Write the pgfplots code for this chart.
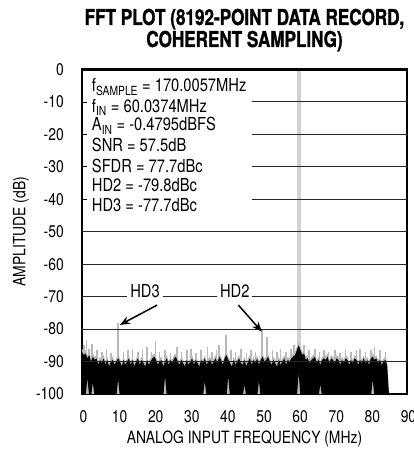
\documentclass[border=0pt]{standalone}
\usepackage{pgfplots}
\pgfplotsset{compat=1.18}
\usepackage{pgfplotstable}
\usepgfplotslibrary{fillbetween}
\usetikzlibrary{calc,arrows.meta}
\usepackage{fontspec}
\setmainfont{TeX Gyre Heros}[FakeStretch=0.82]
\newfontfamily\titlefont{TeX Gyre Heros}[FakeStretch=0.78, BoldFeatures={FakeBold=1.2}]

% noise floor: upper and lower envelope of the FFT bins (dBFS)
\pgfplotstableread{
x hi lo
0.0 -87 -101
0.5 -88 -101
1.0 -87.5 -101
1.5 -89 -95
2.0 -88 -101
2.5 -90 -101
3.0 -88.5 -96.5
3.5 -89.5 -101
4.0 -89 -101
4.5 -91 -101
5.0 -89.5 -101
5.5 -90.5 -101
6.0 -89 -101
6.5 -91 -101
7.0 -89.5 -101
7.5 -91.5 -101
8.0 -90 -101
8.5 -89.5 -101
9.0 -91 -101
9.5 -90 -101
10.0 -89 -95.5
10.5 -90 -101
11.0 -91.5 -101
11.5 -89.5 -101
12.0 -91 -101
12.5 -90 -101
13.0 -89 -101
13.5 -91 -101
14.0 -89.5 -101
14.5 -91.5 -101
15.0 -90 -101
15.5 -89 -101
16.0 -91 -101
16.5 -89.5 -101
17.0 -90.5 -101
17.5 -91.5 -101
18.0 -89.5 -101
18.5 -91 -101
19.0 -90 -101
19.5 -89 -101
20.0 -88.5 -101
20.5 -89.5 -101
21.0 -91 -101
21.5 -90 -101
22.0 -89.5 -101
22.5 -91.5 -101
23.0 -90 -94.5
23.5 -89 -101
24.0 -91 -101
24.5 -89.5 -101
25.0 -90.5 -101
25.5 -89 -101
26.0 -88.5 -101
26.5 -90 -101
27.0 -91 -101
27.5 -89.5 -101
28.0 -90.5 -101
28.5 -91.5 -101
29.0 -89.5 -101
29.5 -91 -101
30.0 -90 -101
30.5 -89 -101
31.0 -91 -101
31.5 -89.5 -101
32.0 -90.5 -101
32.5 -91.5 -101
33.0 -89.5 -101
33.5 -90.5 -101
34.0 -89 -96
34.5 -91 -101
35.0 -90 -101
35.5 -89.5 -101
36.0 -91 -101
36.5 -90 -101
37.0 -89 -101
37.5 -90.5 -101
38.0 -88.5 -101
38.5 -89.5 -101
39.0 -91 -101
39.5 -89 -101
40.0 -88 -101
40.5 -89.5 -94.5
41.0 -90.5 -101
41.5 -91.5 -101
42.0 -89.5 -101
42.5 -91 -101
43.0 -90 -101
43.5 -89 -101
44.0 -90.5 -101
44.5 -91 -101
45.0 -89.5 -97
45.5 -91.5 -101
46.0 -90 -101
46.5 -89 -101
47.0 -91 -101
47.5 -89.5 -101
48.0 -90.5 -101
48.5 -89 -101
49.0 -91 -96
49.5 -89.5 -101
50.0 -88.5 -101
50.5 -90 -101
51.0 -89.5 -101
51.5 -88.5 -101
52.0 -90 -101
52.5 -91 -101
53.0 -89.5 -101
53.5 -90.5 -101
54.0 -91.5 -101
54.5 -89.5 -101
55.0 -91 -101
55.5 -90 -101
56.0 -89 -101
56.5 -91 -101
57.0 -89.5 -101
57.5 -90 -101
58.0 -89 -101
58.5 -88.5 -101
59.0 -88 -101
59.5 -86.5 -101
60.0 -85 -93.5
60.5 -86.5 -101
61.0 -88 -101
61.5 -87.5 -101
62.0 -89.5 -101
62.5 -89 -101
63.0 -90.5 -101
63.5 -89.5 -101
64.0 -89 -101
64.5 -88.5 -101
65.0 -90.5 -101
65.5 -89.5 -101
66.0 -91 -97
66.5 -89.5 -101
67.0 -89 -101
67.5 -89.5 -101
68.0 -88.5 -101
68.5 -90.5 -101
69.0 -89 -101
69.5 -89.5 -101
70.0 -90.5 -101
70.5 -89 -101
71.0 -89.5 -101
71.5 -91 -101
72.0 -89.5 -101
72.5 -90.5 -101
73.0 -89 -101
73.5 -89.5 -101
74.0 -91 -101
74.5 -89.5 -101
75.0 -90.5 -101
75.5 -89 -101
76.0 -89.5 -101
76.5 -91 -101
77.0 -89.5 -101
77.5 -90.5 -101
78.0 -89 -101
78.5 -90.5 -101
79.0 -89.5 -101
79.5 -91 -101
80.0 -89 -101
80.5 -88.5 -95.5
81.0 -89.5 -101
81.5 -89 -101
82.0 -90.5 -101
82.5 -89.5 -101
83.0 -91 -101
83.5 -90 -101
84.0 -89.5 -101
84.5 -91 -101
85.0 -100 -101
}\noise

% isolated spurs rising above the noise floor
\pgfplotstableread{
x y
0.5 -95
0.5 -85
nan nan
1.2 -95
1.2 -83.5
nan nan
2.0 -95
2.0 -86
nan nan
2.8 -95
2.8 -84.5
nan nan
4.2 -95
4.2 -86.5
nan nan
5.5 -95
5.5 -87
nan nan
6.8 -95
6.8 -86
nan nan
8.0 -95
8.0 -87.5
nan nan
11.5 -95
11.5 -87
nan nan
12.8 -95
12.8 -86.5
nan nan
14.0 -95
14.0 -86
nan nan
15.5 -95
15.5 -87
nan nan
16.8 -95
16.8 -86.5
nan nan
18.0 -95
18.0 -85.5
nan nan
19.2 -95
19.2 -87
nan nan
20.3 -95
20.3 -84
nan nan
21.5 -95
21.5 -87
nan nan
23.0 -95
23.0 -86.5
nan nan
24.5 -95
24.5 -87.5
nan nan
26.3 -95
26.3 -85.5
nan nan
27.5 -95
27.5 -87
nan nan
29.0 -95
29.0 -86.5
nan nan
30.2 -95
30.2 -86
nan nan
31.5 -95
31.5 -87.5
nan nan
33.0 -95
33.0 -86.5
nan nan
34.8 -95
34.8 -85.5
nan nan
36.0 -95
36.0 -87
nan nan
37.2 -95
37.2 -86.5
nan nan
38.0 -95
38.0 -85
nan nan
39.9 -95
39.9 -81.8
nan nan
41.2 -95
41.2 -86.5
nan nan
42.5 -95
42.5 -87
nan nan
44.0 -95
44.0 -86
nan nan
45.5 -95
45.5 -87.5
nan nan
46.8 -95
46.8 -86.5
nan nan
48.0 -95
48.0 -87
nan nan
51.3 -95
51.3 -82.5
nan nan
52.8 -95
52.8 -86.5
nan nan
54.0 -95
54.0 -87
nan nan
55.0 -95
55.0 -86
nan nan
56.5 -95
56.5 -87
nan nan
57.8 -95
57.8 -86
nan nan
58.7 -95
58.7 -85
nan nan
61.5 -95
61.5 -85
nan nan
62.8 -95
62.8 -86.5
nan nan
64.5 -95
64.5 -86
nan nan
65.8 -95
65.8 -87
nan nan
67.0 -95
67.0 -86.5
nan nan
68.3 -95
68.3 -87
nan nan
70.0 -95
70.0 -86.5
nan nan
71.5 -95
71.5 -87.5
nan nan
73.0 -95
73.0 -86.5
nan nan
74.5 -95
74.5 -87
nan nan
76.0 -95
76.0 -86.5
nan nan
77.0 -95
77.0 -86
nan nan
78.5 -95
78.5 -87
nan nan
80.0 -95
80.0 -86.5
nan nan
81.0 -95
81.0 -85.5
nan nan
82.5 -95
82.5 -86.5
nan nan
84.0 -95
84.0 -87
}\spurs

\begin{document}
\begin{tikzpicture}
\tikzset{gridline/.style={black!85, line width=0.9bp},
         txt/.style={font=\fontsize{17}{19}\selectfont, inner sep=0pt},
         boxtxt/.style={font=\fontsize{18}{20}\selectfont, inner sep=0pt, anchor=base west}}
\begin{axis}[
  scale only axis, width=325bp, height=324.5bp,
  xmin=0, xmax=90, ymin=-100, ymax=0,
  xtick={0,10,...,90}, ytick={-100,-90,...,0},
  axis line style={line width=2.4bp},
  ytick pos=left, tick align=inside, major tick length=5bp,
  ytick style={black, line width=0.8bp},
  xtick style={draw=none},
  ticklabel style={font=\fontsize{17}{19}\selectfont, inner sep=0pt},
  yticklabel style={anchor=east, xshift=-18bp},
  xticklabel style={anchor=north, yshift=-16bp, xshift=1.5bp},
  /pgf/number format/assume math mode=true,
  unbounded coords=jump,
  fill between/on layer=main,
]
% fundamental
\addplot[gray!35, line width=4bp] coordinates {(60.04,-100) (60.04,-0.48)};
% harmonics
\addplot[gray!55, line width=2bp] coordinates {(10.04,-100) (10.04,-78.2)};
\addplot[gray!55, line width=2bp] coordinates {(49.93,-100) (49.93,-80.3)};
% spurs
\addplot[gray!55, line width=1.6bp] table[x=x, y=y] {\spurs};
% noise floor: soft fringe, then the dense band
\addplot[draw=none, name path=bot] coordinates {(0,-101) (85,-101)};
\addplot[draw=none, name path=lo] table[x=x, y=lo] {\noise};
\addplot[draw=none, name path=hi] table[x=x, y=hi] {\noise};
\addplot[draw=none, name path=haze] table[x=x, y expr=\thisrow{hi}+1] {\noise};
\addplot[fill=gray!55, draw=none] fill between[of=haze and bot];
\addplot[fill=black, draw=none] fill between[of=hi and lo];

% grid
\draw[gridline] (axis cs:47.1,-10) -- (axis cs:90,-10);
\draw[gridline] (axis cs:47.1,-20) -- (axis cs:90,-20);
\draw[gridline] (axis cs:47.1,-30) -- (axis cs:90,-30);
\draw[gridline] (axis cs:47.1,-40) -- (axis cs:90,-40);
\draw[gridline] (axis cs:0,-50) -- (axis cs:90,-50);
\draw[gridline] (axis cs:0,-60) -- (axis cs:90,-60);
\draw[gridline] (axis cs:0,-80) -- (axis cs:90,-80);
\draw[gridline] (axis cs:0,-90) -- (axis cs:90,-90);
\draw[gridline] (axis cs:0,-70) -- (axis cs:12.5,-70);
\draw[gridline] (axis cs:22.4,-70) -- (axis cs:37.4,-70);
\draw[gridline] (axis cs:47.1,-70) -- (axis cs:90,-70);

% test conditions
\node[boxtxt] at (axis cs:2.7,-6.93) {f\textsubscript{SAMPLE} = 170.0057MHz};
\node[boxtxt] at (axis cs:2.7,-13.1) {f\textsubscript{IN} = 60.0374MHz};
\node[boxtxt] at (axis cs:2.7,-18.95) {A\textsubscript{IN} = -0.4795dBFS};
\node[boxtxt] at (axis cs:2.7,-25.4) {SNR = 57.5dB};
\node[boxtxt] at (axis cs:2.7,-31.6) {SFDR = 77.7dBc};
\node[boxtxt] at (axis cs:2.7,-37.75) {HD2 = -79.8dBc};
\node[boxtxt] at (axis cs:2.7,-43.9) {HD3 = -77.7dBc};

% harmonic callouts
\node[txt, font=\fontsize{18}{20}\selectfont, anchor=base] at (axis cs:17.45,-70.3) {HD3};
\node[txt, font=\fontsize{18}{20}\selectfont, anchor=base] at (axis cs:42.3,-70.3) {HD2};
\draw[line width=1.5bp, -{Stealth[length=10bp, width=8bp]}] (axis cs:20.8,-72.6) -- (axis cs:10.5,-78.7);
\draw[line width=1.5bp, -{Stealth[length=10bp, width=8bp]}] (axis cs:43.3,-72.6) -- (axis cs:49.8,-80.8);
\end{axis}

% title and axis labels
\node[anchor=base, font=\titlefont\bfseries\fontsize{22}{23}\selectfont, inner sep=0pt]
  at ($(current axis.north)+(0,44.5bp)$) {FFT PLOT (8192-POINT DATA RECORD,};
\node[anchor=base, font=\titlefont\bfseries\fontsize{22}{23}\selectfont, inner sep=0pt]
  at ($(current axis.north)+(0,22.5bp)$) {COHERENT SAMPLING)};
\node[anchor=base, txt] at ($(current axis.south)+(0,-49bp)$) {ANALOG INPUT FREQUENCY (MHz)};
\node[anchor=center, rotate=90, txt] at ($(current axis.west)+(-61bp,0)$) {AMPLITUDE (dB)};

\pgfresetboundingbox
\path[use as bounding box] ($(current axis.south west)+(-82bp,-61bp)$) rectangle ($(current axis.north east)+(7bp,69.5bp)$);
\end{tikzpicture}
\end{document}
